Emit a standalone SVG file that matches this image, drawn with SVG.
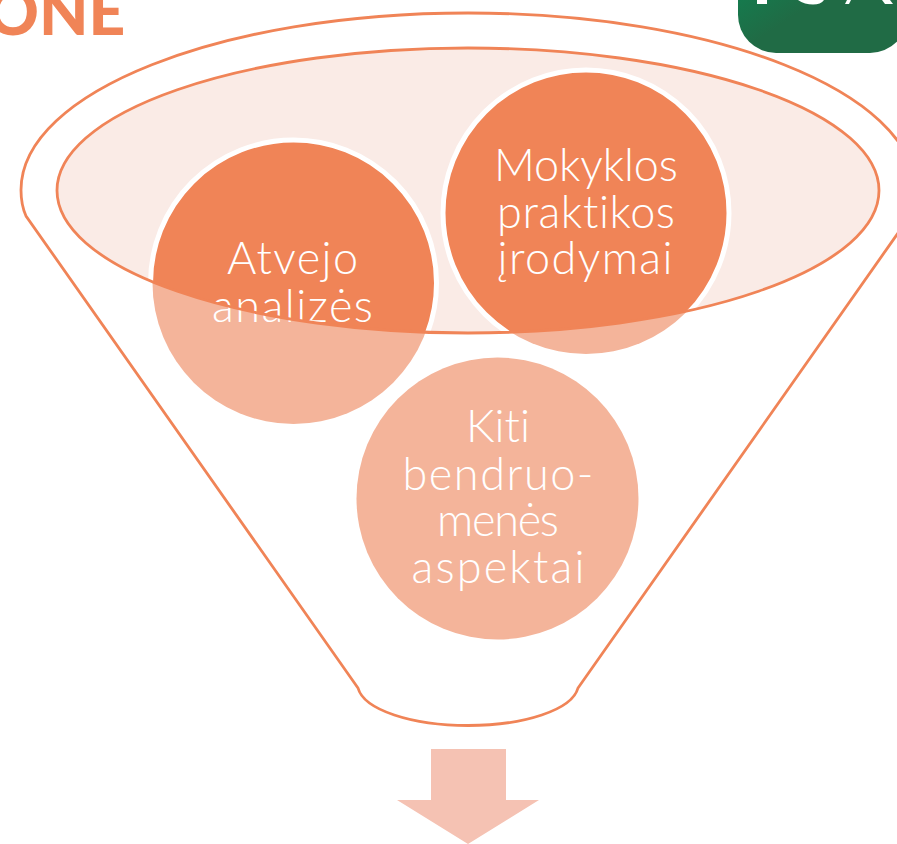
<svg xmlns="http://www.w3.org/2000/svg" width="897" height="844" viewBox="0 0 897 844">
<style>
.t{font-family:"Lato","Liberation Sans",sans-serif;font-weight:300;font-size:45px;fill:#fff;text-anchor:middle;font-variant-ligatures:none}
.l{stroke:#f08457;stroke-width:2.8;fill:none}
.lc{fill:#f4b49a}
.dc{fill:#f08457;stroke:#fff;stroke-width:5}
</style>
<defs>
<clipPath id="ec"><ellipse cx="468" cy="190.500" rx="411" ry="142.500"/></clipPath>
<linearGradient id="g" x1="0" y1="0" x2="1" y2="1"><stop offset="0" stop-color="#0a8a56"/><stop offset="0.5" stop-color="#206b45"/></linearGradient>
</defs>
<rect width="897" height="844" fill="#fff"/>
<text id="title" x="-13" y="35" font-family="'Lato','Liberation Sans',sans-serif" font-weight="900" font-size="64" fill="#f08457">ONE</text>
<g id="logo"><rect x="738" y="-60" width="170" height="113" rx="38" fill="url(#g)"/>
<path d="M757 0h10v4h-10zM798 0h26c-2 3-6 4.500-11 4.500s-11-1.500-15-4.500zM845 4l2-4h4l-2 4zM882 0h8l3 4h-8z" fill="#fff"/></g>
<g id="funnel"><path class="l" d="M26 216C22 207 21 198 21 190C21 92 221 13 468 13S915 92 915 190C915 198 914 207 910 216L578 688C572 710 524 725.500 468 725.500S364 710 358 688Z"/></g>
<g id="band"><ellipse cx="468" cy="190.500" rx="411" ry="142.500" fill="#faebe6"/></g>
<g id="node-atvejo"><circle class="lc" cx="293.500" cy="283" r="141"/></g>
<g id="node-mokyklos"><circle class="lc" cx="586" cy="213" r="141"/></g>
<g id="node-kiti"><circle class="lc" cx="497.500" cy="498.500" r="141"/>
<text class="t" x="498" y="442">Kiti</text>
<text class="t" x="498" y="490" textLength="191">bendruo-</text>
<text class="t" x="498" y="536" textLength="122">menės</text>
<text class="t" x="498" y="583" textLength="173">aspektai</text></g>
<g clip-path="url(#ec)"><circle class="dc" cx="293.500" cy="283" r="143"/><circle class="dc" cx="586" cy="213" r="143"/></g>
<text class="t" x="292.500" y="274" textLength="131">Atvejo</text>
<text class="t" x="292.500" y="322" textLength="161">analizės</text>
<text class="t" x="586" y="181" textLength="184">Mokyklos</text>
<text class="t" x="586" y="228" textLength="178">praktikos</text>
<text class="t" x="585" y="274" textLength="175">įrodymai</text>
<g id="connectors"><ellipse class="l" cx="468" cy="190.500" rx="411" ry="142.500"/>
<path d="M431 749h75v51h33l-71 44l-71-44h34z" fill="#f5c2b3"/></g>
</svg>
